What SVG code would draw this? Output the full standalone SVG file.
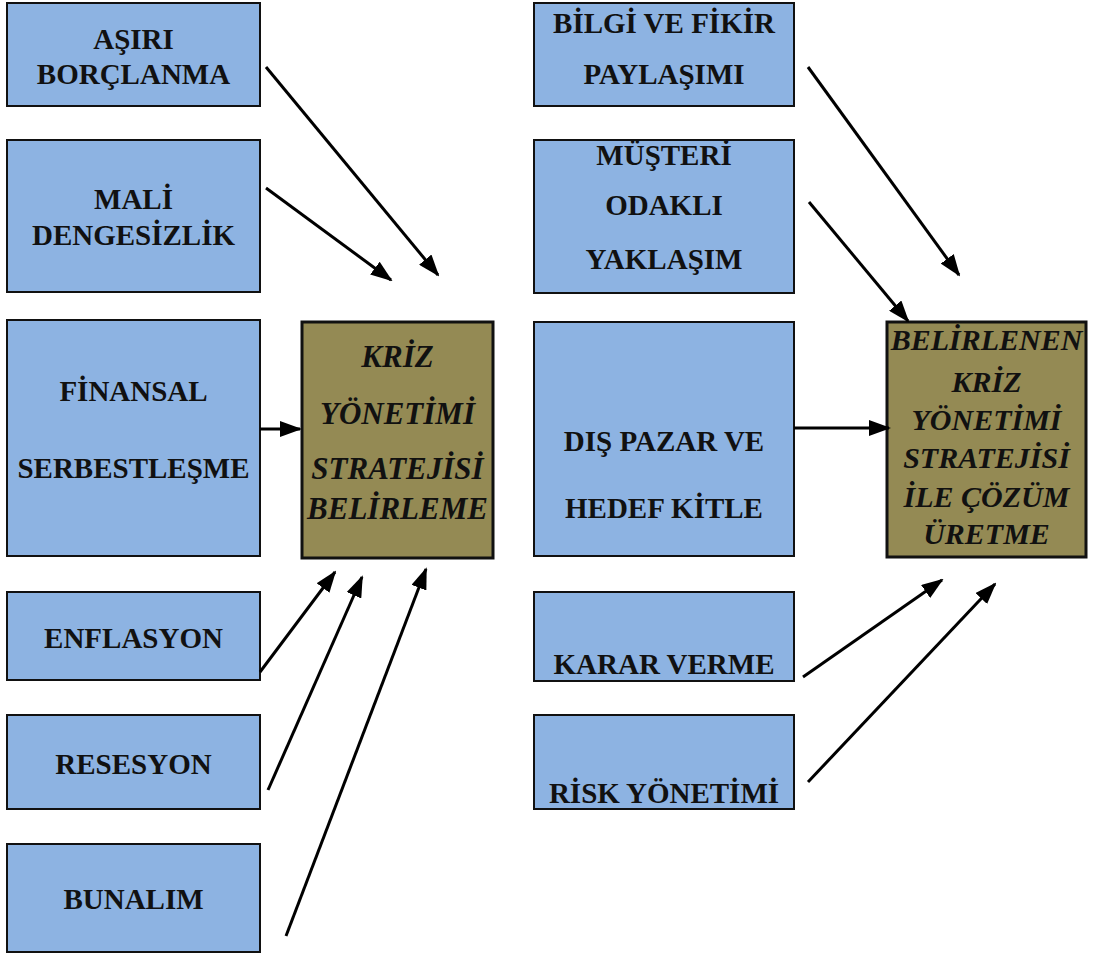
<svg xmlns="http://www.w3.org/2000/svg" width="1099" height="959" viewBox="0 0 1099 959">
<style>
.b{fill:#8DB3E2;stroke:#111;stroke-width:2}
.o{fill:#948A54;stroke:#111;stroke-width:3}
.t{font-family:"Liberation Serif","Times New Roman",serif;font-weight:bold;font-size:29px;fill:#111;text-anchor:middle}
.i{font-family:"Liberation Serif","Times New Roman",serif;font-weight:bold;font-style:italic;font-size:30px;fill:#111;text-anchor:middle}
.k{font-size:31px}
.c{stroke:#000;stroke-width:3;fill:none;marker-end:url(#ah)}
</style>
<defs>
<marker id="ah" markerUnits="userSpaceOnUse" markerWidth="22" markerHeight="16" refX="20" refY="8" orient="auto">
<path d="M0,0 L22,8 L0,16 Z" fill="#000"/>
</marker>
</defs>
<rect width="1099" height="959" fill="#fff"/>
<g id="n-asiri"><rect class="b" x="7" y="3" width="253" height="103"/><text class="t" x="133.5" y="49">AŞIRI</text><text class="t" x="133.5" y="84">BORÇLANMA</text></g>
<g id="n-mali"><rect class="b" x="7" y="140" width="253" height="152"/><text class="t" x="133.5" y="209">MALİ</text><text class="t" x="133.5" y="245">DENGESİZLİK</text></g>
<g id="n-finansal"><rect class="b" x="7" y="320" width="253" height="236"/><text class="t" x="133.5" y="401">FİNANSAL</text><text class="t" x="133.5" y="478">SERBESTLEŞME</text></g>
<g id="n-enflasyon"><rect class="b" x="7" y="592" width="253" height="88"/><text class="t" x="133.5" y="648">ENFLASYON</text></g>
<g id="n-resesyon"><rect class="b" x="7" y="715" width="253" height="94"/><text class="t" x="133.5" y="774">RESESYON</text></g>
<g id="n-bunalim"><rect class="b" x="7" y="844" width="253" height="108"/><text class="t" x="133.5" y="909">BUNALIM</text></g>
<g id="n-kriz"><rect class="o" x="302" y="322" width="191" height="236"/><text class="i k" x="397.5" y="367">KRİZ</text><text class="i k" x="397.5" y="424">YÖNETİMİ</text><text class="i k" x="397.5" y="479">STRATEJİSİ</text><text class="i k" x="397.5" y="519">BELİRLEME</text></g>
<g id="n-bilgi"><rect class="b" x="534" y="3" width="260" height="103"/><text class="t" x="664" y="33">BİLGİ VE FİKİR</text><text class="t" x="664" y="84">PAYLAŞIMI</text></g>
<g id="n-musteri"><rect class="b" x="534" y="140" width="260" height="153"/><text class="t" x="664" y="165">MÜŞTERİ</text><text class="t" x="664" y="215">ODAKLI</text><text class="t" x="664" y="269">YAKLAŞIM</text></g>
<g id="n-dis"><rect class="b" x="534" y="322" width="260" height="234"/><text class="t" x="664" y="451">DIŞ PAZAR VE</text><text class="t" x="664" y="518">HEDEF KİTLE</text></g>
<g id="n-karar"><rect class="b" x="534" y="592" width="260" height="89"/><text class="t" x="664" y="674">KARAR VERME</text></g>
<g id="n-risk"><rect class="b" x="534" y="715" width="260" height="94"/><text class="t" x="664" y="803">RİSK YÖNETİMİ</text></g>
<g id="n-sonuc"><rect class="o" x="887" y="322" width="199" height="235"/><text class="i" x="986.5" y="350">BELİRLENEN</text><text class="i" x="986.5" y="392">KRİZ</text><text class="i" x="986.5" y="430">YÖNETİMİ</text><text class="i" x="986.5" y="468">STRATEJİSİ</text><text class="i" x="986.5" y="507">İLE ÇÖZÜM</text><text class="i" x="986.5" y="544">ÜRETME</text></g>
<g id="connectors">
<line class="c" x1="266" y1="67" x2="438" y2="275"/>
<line class="c" x1="266" y1="188" x2="391" y2="280"/>
<line class="c" x1="260" y1="429" x2="300" y2="429"/>
<line class="c" x1="260" y1="672" x2="335" y2="572"/>
<line class="c" x1="268" y1="790" x2="362" y2="577"/>
<line class="c" x1="286" y1="936" x2="426" y2="569"/>
<line class="c" x1="808" y1="67" x2="959" y2="275"/>
<line class="c" x1="809" y1="202" x2="908" y2="321"/>
<line class="c" x1="794" y1="428" x2="889" y2="428"/>
<line class="c" x1="803" y1="677" x2="942" y2="580"/>
<line class="c" x1="808" y1="782" x2="995" y2="584"/>
</g>
</svg>
